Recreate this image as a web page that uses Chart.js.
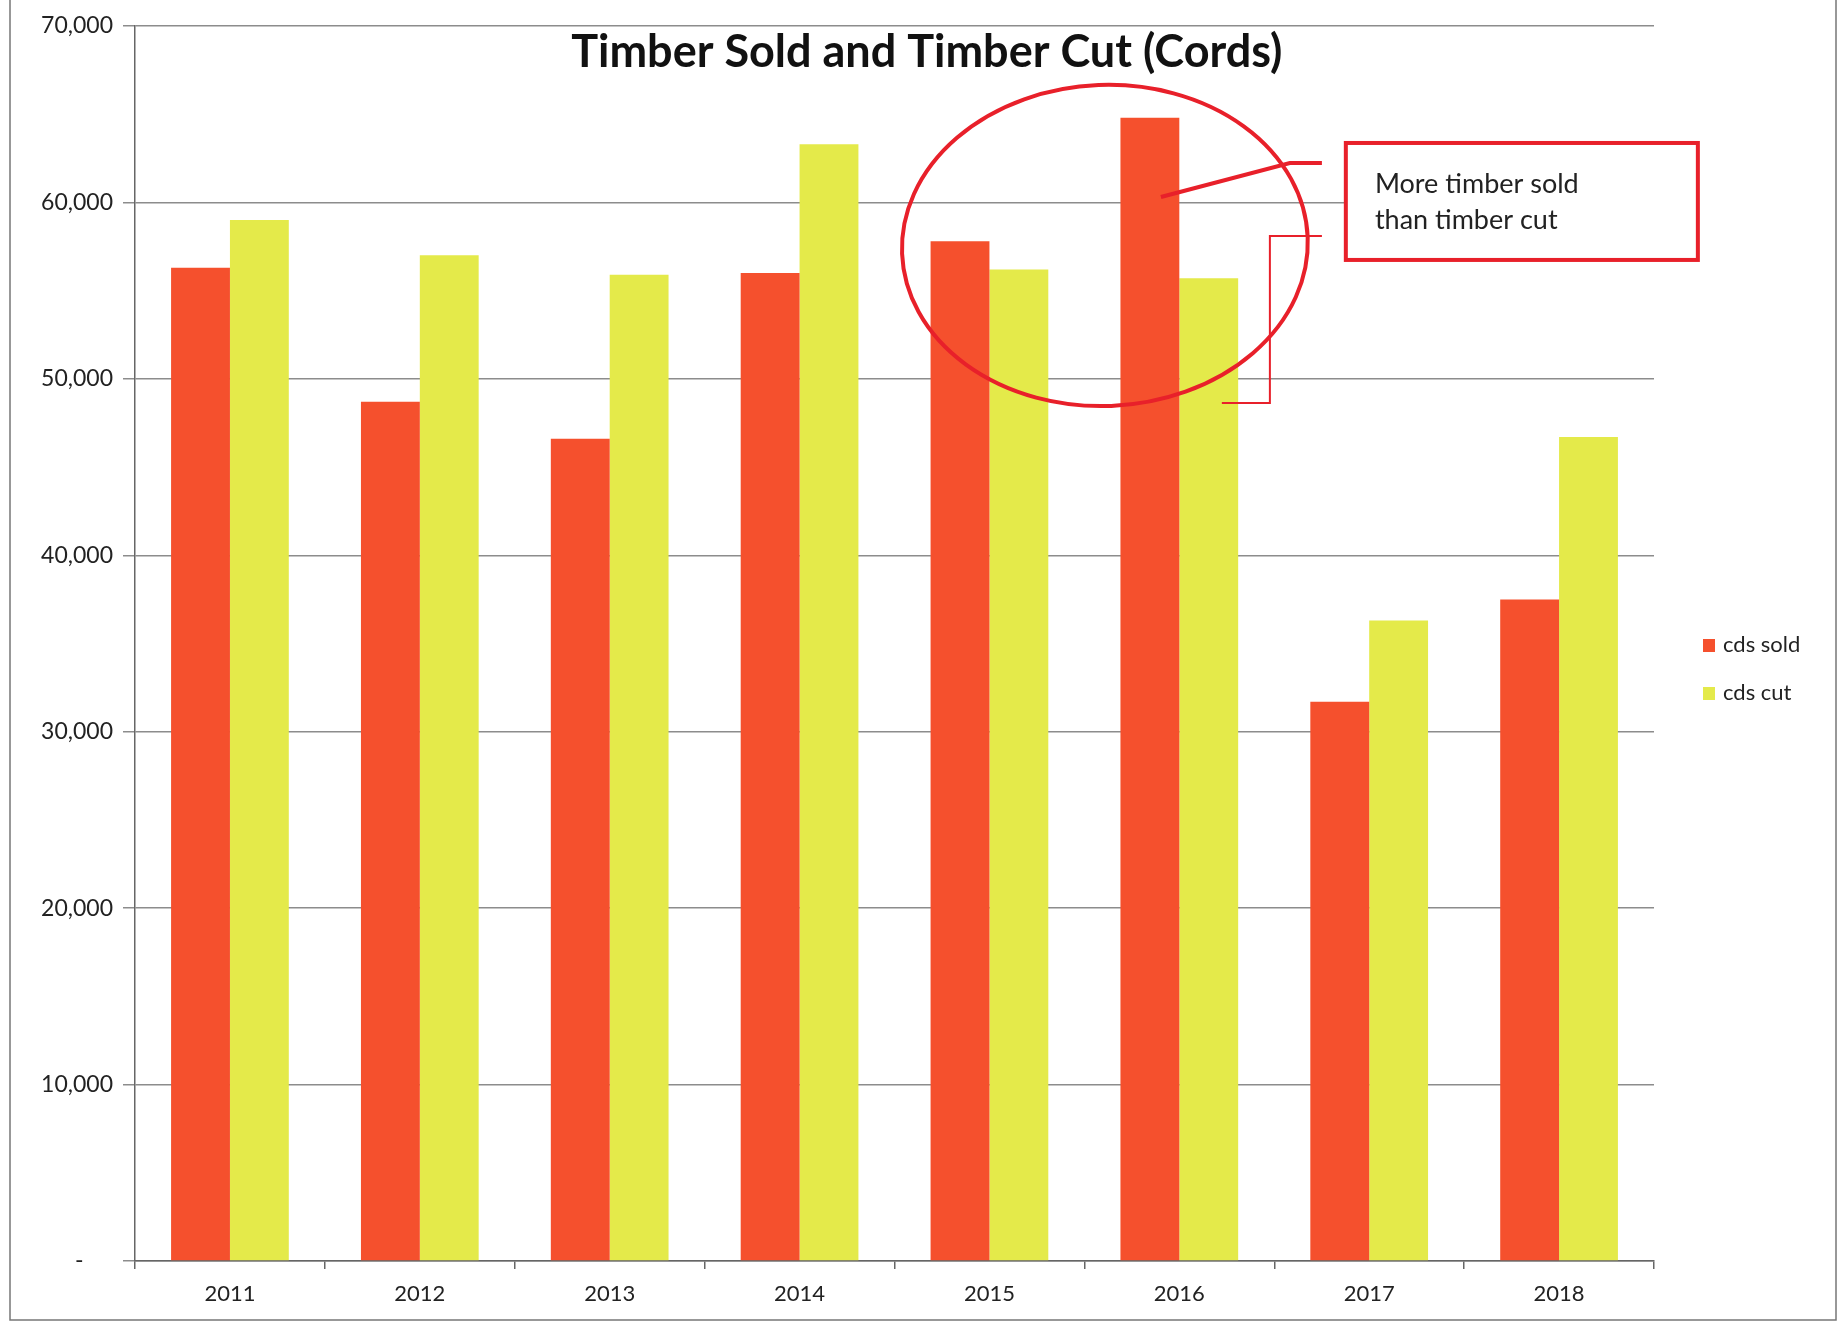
<!DOCTYPE html>
<html>
<head>
<meta charset="utf-8">
<script src="https://cdn.jsdelivr.net/npm/chart.js@4"></script>
<style>
  html, body { margin: 0; padding: 0; background: #fff; }
  #wrap { width: 1839px; height: 1323px; }
</style>
</head>
<body>
<div id="wrap"><canvas id="timberChart" width="1839" height="1323"></canvas></div>
<script>
const years = ['2011', '2012', '2013', '2014', '2015', '2016', '2017', '2018'];
const cdsSold = [56300, 48700, 46600, 56000, 57800, 64800, 31700, 37500];
const cdsCut = [59000, 57000, 55900, 63300, 56200, 55700, 36300, 46700];
const seriesNames = ['cds sold', 'cds cut'];
const seriesColors = ['#F5502D', '#E4EA4A'];
const chartTitle = 'Timber Sold and Timber Cut (Cords)';
const noteLines = ['More timber sold', 'than timber cut'];

const fontFamily = 'Lato, "Open Sans", sans-serif';
const red = '#E8202A';

// title, frame, callout and legend drawn on top of the chart
const decorations = {
  id: 'decorations',
  afterDraw(chart) {
    const ctx = chart.ctx;
    const area = chart.chartArea;
    const xs = chart.scales.x;
    const ys = chart.scales.y;
    const X = i => xs.getPixelForValue(i);
    const Y = v => ys.getPixelForValue(v);
    const catW = X(1) - X(0);
    const unit = Y(0) - Y(10000);

    ctx.save();

    // page frame
    ctx.strokeStyle = '#777';
    ctx.lineWidth = 1.5;
    ctx.beginPath();
    ctx.moveTo(10, 0);
    ctx.lineTo(10, 1320);
    ctx.lineTo(1836, 1320);
    ctx.lineTo(1836, 0);
    ctx.stroke();

    // title
    ctx.fillStyle = '#111';
    ctx.font = 'bold 45px ' + fontFamily;
    ctx.textAlign = 'center';
    ctx.textBaseline = 'middle';
    ctx.fillText(chartTitle, X(3.67), Y(69500) + 18);

    // circle round 2015-2016
    ctx.strokeStyle = red;
    ctx.lineWidth = 4;
    ctx.beginPath();
    ctx.ellipse(X(4.608), Y(57560), catW * 1.069, unit * 0.91, -0.04, 0, Math.PI * 2);
    ctx.stroke();

    // pointer to 2016 sold
    ctx.lineWidth = 4;
    ctx.beginPath();
    ctx.moveTo(X(5.751), Y(62230));
    ctx.lineTo(X(5.582), Y(62230));
    ctx.lineTo(X(4.903), Y(60310));
    ctx.stroke();

    // bracket to 2016 cut
    ctx.lineWidth = 2;
    ctx.beginPath();
    ctx.moveTo(X(5.751), Y(58100));
    ctx.lineTo(X(5.477), Y(58100));
    ctx.lineTo(X(5.477), Y(48630));
    ctx.lineTo(X(5.224), Y(48630));
    ctx.stroke();

    // note box
    const bx = X(5.877), by = Y(63370);
    const bw = X(7.731) - bx, bh = Y(56740) - by;
    ctx.fillStyle = '#fff';
    ctx.fillRect(bx, by, bw, bh);
    ctx.lineWidth = 4;
    ctx.strokeRect(bx, by, bw, bh);
    ctx.fillStyle = '#222';
    ctx.font = '27px ' + fontFamily;
    ctx.textAlign = 'left';
    ctx.fillText(noteLines[0], X(6.03), Y(61040));
    ctx.fillText(noteLines[1], X(6.03), Y(59000));

    // legend
    ctx.font = '22px ' + fontFamily;
    chart.data.datasets.forEach((ds, k) => {
      const ly = area.top + 619 + k * 48;
      ctx.fillStyle = ds.backgroundColor;
      ctx.fillRect(area.right + 49, ly - 6, 12, 13);
      ctx.fillStyle = '#222';
      ctx.fillText(ds.label, area.right + 69, ly);
    });

    ctx.restore();
  }
};

new Chart(document.getElementById('timberChart'), {
  type: 'bar',
  data: {
    labels: years,
    datasets: [
      { label: seriesNames[0], data: cdsSold, backgroundColor: seriesColors[0] },
      { label: seriesNames[1], data: cdsCut, backgroundColor: seriesColors[1] }
    ]
  },
  options: {
    responsive: false,
    animation: false,
    layout: { padding: { top: 26, right: 185, bottom: 0, left: 0 } },
    datasets: {
      bar: { categoryPercentage: 0.62, barPercentage: 1.0 }
    },
    plugins: {
      legend: { display: false },
      title: { display: false },
      tooltip: { enabled: false }
    },
    scales: {
      x: {
        afterFit: s => { s.height = 62; },
        grid: { display: true, drawOnChartArea: false, tickLength: 8, color: '#666', lineWidth: 1.5 },
        border: { color: '#666', width: 1.5 },
        ticks: { color: '#222', font: { family: fontFamily, size: 22 }, padding: 12 }
      },
      y: {
        min: 0,
        max: 70000,
        afterFit: s => { s.width = 135; },
        grid: { color: '#8c8c8c', lineWidth: 1.5, tickLength: 12 },
        border: { color: '#666', width: 1.5 },
        ticks: {
          stepSize: 10000,
          color: '#222',
          padding: 10,
          font: { family: fontFamily, size: 23 },
          callback: v => v === 0 ? '-     ' : v.toLocaleString('en-US')
        }
      }
    }
  },
  plugins: [decorations]
});
</script>
</body>
</html>
